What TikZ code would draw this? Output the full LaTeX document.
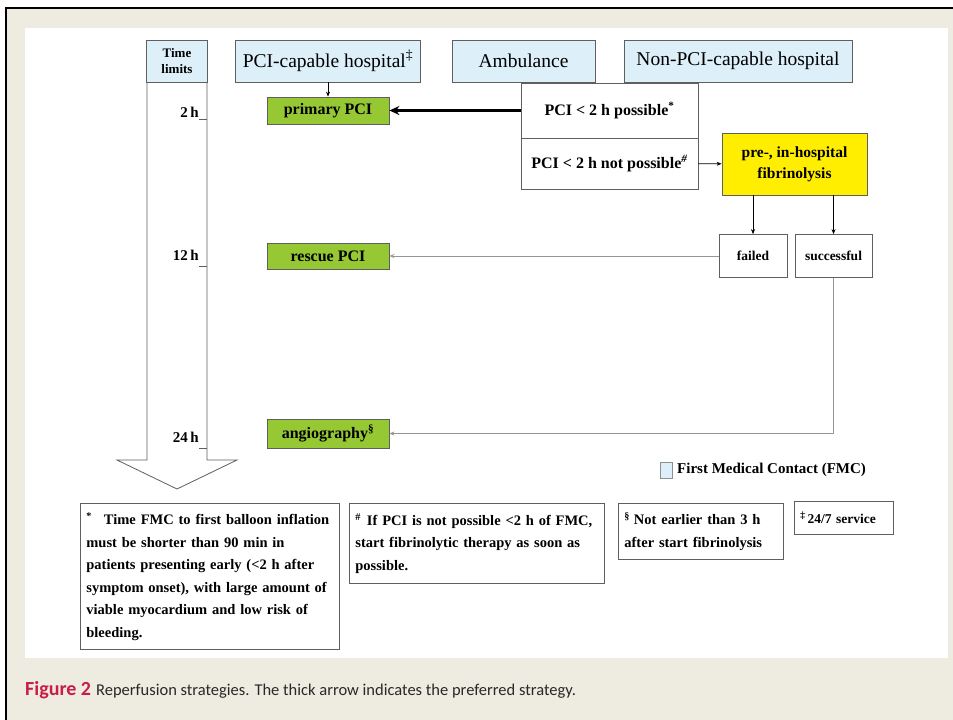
\documentclass[tikz,border=0pt]{standalone}
\usepackage{fontspec}
\setmainfont{Liberation Serif}
\newfontfamily\capfont{Carlito}
\usepackage{tikz}
\usetikzlibrary{arrows.meta}
\definecolor{fmcblue}{RGB}{221,239,248}
\definecolor{treatgreen}{RGB}{150,200,52}
\definecolor{lysisyellow}{RGB}{255,238,0}
\definecolor{edgegray}{RGB}{95,95,95}
\definecolor{linegray}{RGB}{150,150,150}
\definecolor{pagebeige}{RGB}{238,235,225}
\definecolor{capred}{RGB}{200,30,70}
\definecolor{captext}{RGB}{40,40,40}

\begin{document}
\begin{tikzpicture}[x=1pt, y=-1pt,
  fmcbox/.style={draw=edgegray, fill=fmcblue, line width=0.8pt, minimum height=42pt,
    inner sep=0pt, font=\fontsize{19.5}{22}\selectfont},
  treat/.style={draw=edgegray, fill=treatgreen, line width=0.8pt, minimum width=122pt,
    inner sep=0pt, font=\bfseries\fontsize{16}{18}\selectfont},
  choicebox/.style={draw=edgegray, line width=0.8pt, minimum width=177pt, inner sep=0pt,
    font=\bfseries\fontsize{16}{18}\selectfont},
  outcome/.style={draw=edgegray, line width=0.8pt, minimum height=43pt, inner sep=0pt,
    font=\bfseries\fontsize{13.5}{16}\selectfont},
  notebox/.style={draw=edgegray, line width=0.8pt, anchor=north west, align=left,
    inner xsep=6pt, inner ysep=0pt, font=\bfseries\fontsize{14.5}{22.5}\selectfont},
  thin/.style={-{Stealth[length=5pt,width=4pt]}, line width=0.6pt},
  grayline/.style={-{Stealth[length=5pt,width=4pt]}, linegray, line width=0.9pt}]
  \useasboundingbox (0,0) rectangle (953,720);
  % page and frame
  \fill[pagebeige] (7,9) rectangle (953,720);
  \fill[white] (25,28) rectangle (948,658);
  \draw[line width=2pt] (6,720) -- (6,8) -- (953,8);

  % time axis
  \draw[edgegray, line width=0.8pt, fill=white]
    (147,82) -- (147,460) -- (117,460) -- (177,489) -- (237,460) -- (207,460) -- (207,82);
  \node[fmcbox, minimum width=61pt, align=center, font=\bfseries\fontsize{13}{16}\selectfont]
    (limits) at (177,61) {Time\\limits};
  \foreach \t/\y/\k in {2/112/119, 12/255/266, 24/437/448} {
    \node[anchor=east, inner sep=0pt, font=\bfseries\fontsize{15}{17}\selectfont]
      (t\t) at (199,\y) {\t\,h};
    \draw[edgegray] (199,\k) -- (207,\k);
  }

  % settings
  \node[fmcbox, minimum width=185pt] (pcihosp) at (328,61) {PCI-capable hospital\textsuperscript{\ddag}};
  \node[fmcbox, minimum width=143pt] (ambulance) at (523.5,61) {Ambulance};
  \node[fmcbox, minimum width=228pt] (nonpci) at (738,61) {Non-PCI-capable hospital};

  % treatments
  \node[treat, minimum height=27pt] (primary) at (328,110.5) {primary PCI};
  \node[treat, minimum height=26pt] (rescue) at (328,256) {rescue PCI};
  \node[treat, minimum height=29pt] (angio) at (328,433.5) {angiography\textsuperscript{\S}};

  \node[choicebox, minimum height=55pt] (possible) at (609.5,110.5) {PCI < 2 h possible\textsuperscript{*}};
  \node[choicebox, minimum height=51pt] (notpossible) at (609.5,163.5)
    {PCI < 2 h not possible\textsuperscript{\textit{\#}}};
  \node[draw=edgegray, fill=lysisyellow, line width=0.8pt, minimum width=145pt, minimum height=62pt,
    align=center, inner sep=0pt, font=\bfseries\fontsize{15.5}{21}\selectfont]
    (lysis) at (794.5,164) {pre-, in-hospital\\fibrinolysis};
  \node[outcome, minimum width=68pt] (failed) at (753,256) {failed};
  \node[outcome, minimum width=77pt] (success) at (833.5,256) {successful};

  % connectors
  \draw[thin] (pcihosp) -- (primary);
  \draw[-{Stealth[length=10pt,width=9pt]}, line width=2.6pt] (possible) -- (primary);
  \draw[thin] (notpossible) -- (lysis);
  \draw[thin] (lysis.south -| failed) -- (failed.north);
  \draw[thin] (lysis.south -| success) -- (success.north);
  \draw[grayline] (failed) -- (rescue);
  \draw[grayline] (success.south) |- (angio.east);

  % legend
  \node[draw=edgegray!70, fill=fmcblue, line width=0.6pt, minimum width=12pt, minimum height=16pt,
    inner sep=0pt] (fmckey) at (666,470) {};
  \node[anchor=west, inner sep=0pt, font=\bfseries\fontsize{15}{17}\selectfont]
    (fmctext) at (677,470) {First Medical Contact (FMC)};

  % footnotes
  \node[notebox, text width=247pt, minimum height=146pt] (note1) at (80,503)
    {\textsuperscript{*}\hspace{12pt}Time FMC to first balloon inflation\\
     must be shorter than 90 min in\\
     patients presenting early (<2 h after\\
     symptom onset), with large amount of\\
     viable myocardium and low risk of\\
     bleeding.};
  \node[notebox, text width=243pt, minimum height=80pt] (note2) at (349,503)
    {\textsuperscript{\#}\hspace{6pt}If PCI is not possible <2 h of FMC,\\
     start fibrinolytic therapy as soon as\\
     possible.};
  \node[notebox, text width=153pt, minimum height=56pt] (note3) at (618,503)
    {\textsuperscript{\S}\hspace{4pt}Not earlier than 3 h\\
     after start fibrinolysis};
  \node[notebox, text width=87pt, minimum height=33pt, font=\bfseries\fontsize{13.5}{16}\selectfont]
    (note4) at (794,501) {\textsuperscript{\ddag}\hspace{2pt}24/7 service};

  % caption
  \node[anchor=base west, inner sep=0pt, text=captext] (caption) at (25,695)
    {\capfont{\color{capred}\bfseries\fontsize{20}{22}\selectfont Figure 2}\hspace{5pt}%
     \capfont\fontsize{16.5}{19}\selectfont Reperfusion strategies. The thick arrow indicates the preferred strategy.};
\end{tikzpicture}
\end{document}
